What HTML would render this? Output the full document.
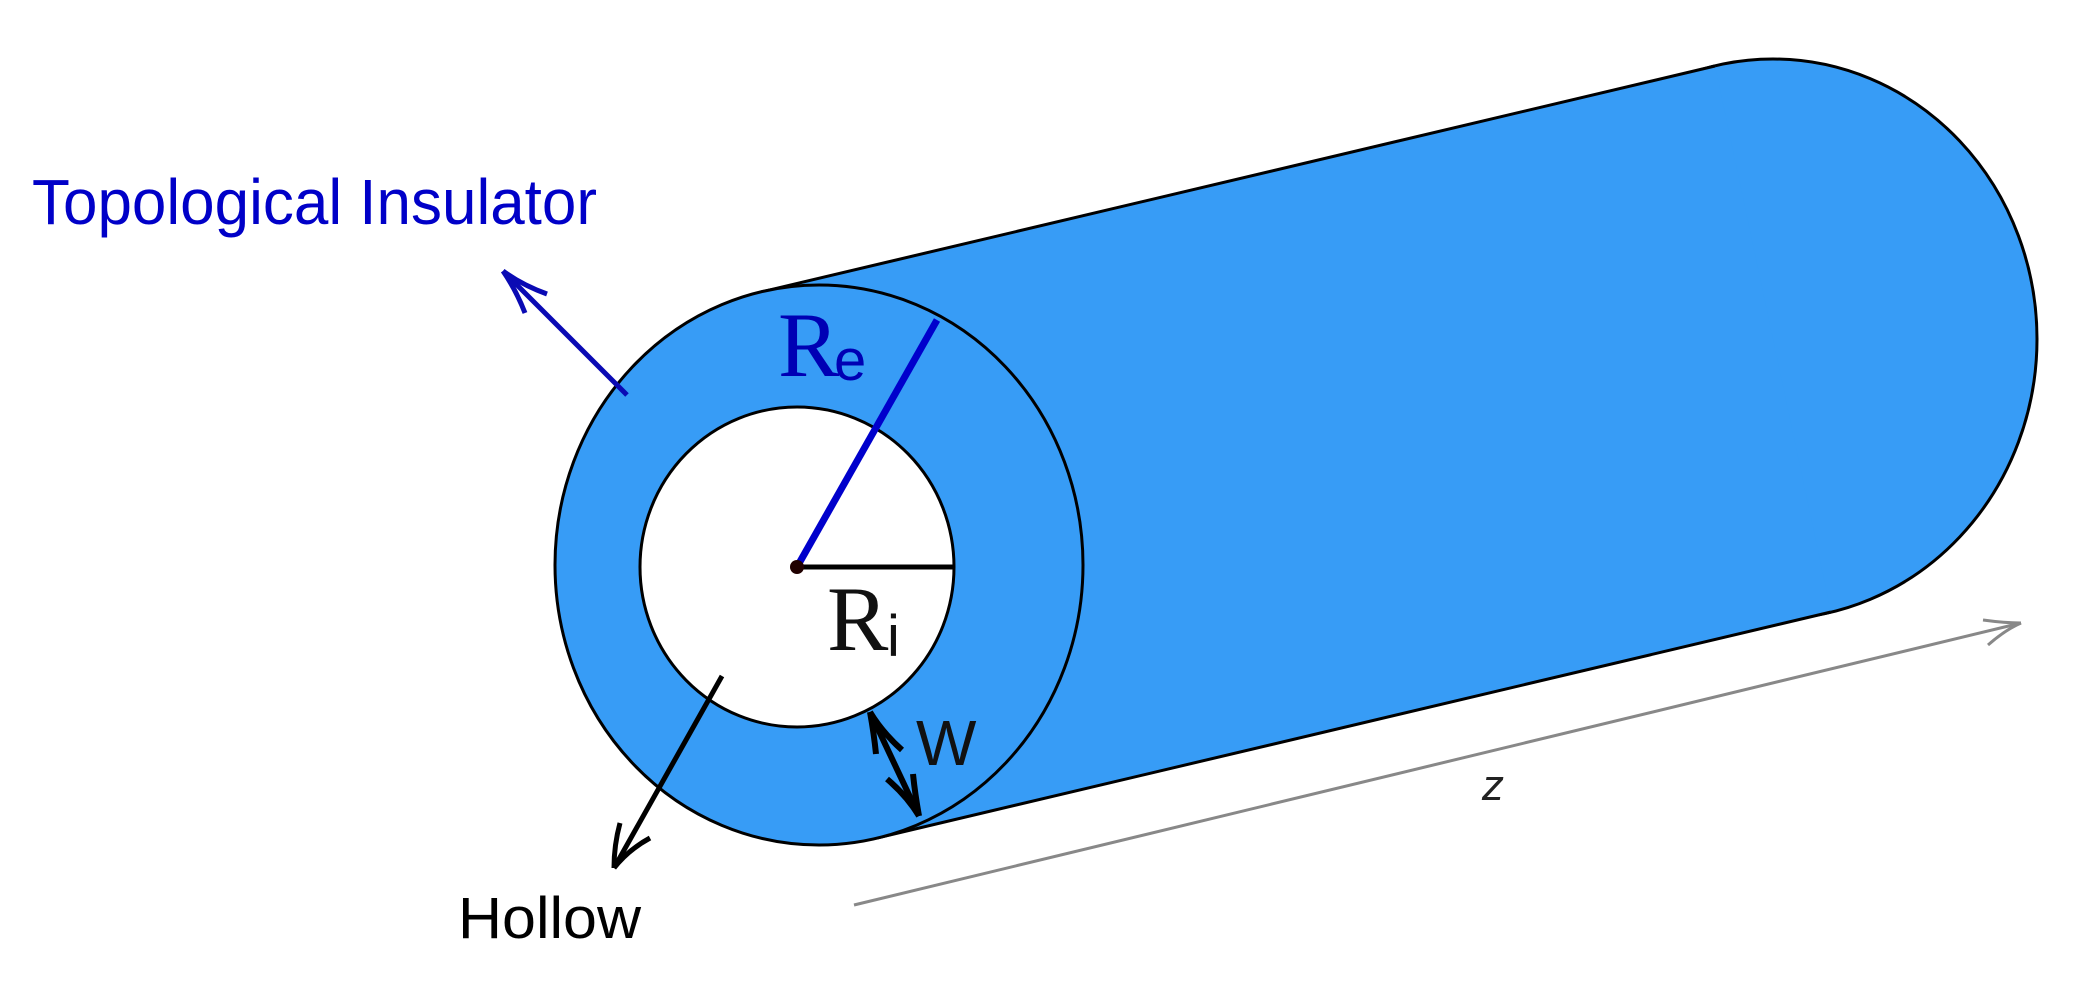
<!DOCTYPE html>
<html><head><meta charset="utf-8"><style>html,body{margin:0;padding:0;background:#fff}svg{display:block}.s{font-family:"Liberation Sans",sans-serif}.r{font-family:"Liberation Serif",serif}</style></head>
<body>
<svg width="2092" height="988" viewBox="0 0 2092 988" xmlns="http://www.w3.org/2000/svg">
<ellipse cx="1773" cy="339" rx="264" ry="280" fill="#379cf6" stroke="#000" stroke-width="3"/>
<polygon points="761,292 1715,66 1831,612 877,838" fill="#379cf6"/>
<line x1="761" y1="292" x2="1715" y2="66" stroke="#000" stroke-width="3"/>
<line x1="877" y1="838" x2="1831" y2="612" stroke="#000" stroke-width="3"/>
<ellipse cx="819" cy="565" rx="264" ry="280" fill="#379cf6" stroke="#000" stroke-width="3"/>
<ellipse cx="797" cy="567" rx="157" ry="160" fill="#fff" stroke="#000" stroke-width="3"/>
<line x1="797" y1="567" x2="937" y2="320" stroke="#0000cc" stroke-width="7"/>
<line x1="797" y1="567" x2="954" y2="567" stroke="#000" stroke-width="5"/>
<circle cx="797" cy="567" r="7" fill="#200000"/>
<text class="r" x="778" y="376" font-size="92" fill="#0000b4">R</text>
<text class="s" x="834" y="380" font-size="58" fill="#0000b4">e</text>
<text class="r" x="827" y="650" font-size="92" fill="#111">R</text>
<text class="s" x="887" y="656" font-size="58" fill="#111">i</text>
<g stroke="#0a0ab4" stroke-width="5" fill="none">
<line x1="627" y1="395" x2="503" y2="271"/>
<path d="M503,271 Q516,290 525,313"/>
<path d="M503,271 Q522,285 547,294"/>
</g>
<text class="s" x="32" y="224" font-size="64" fill="#0000c8" textLength="565" lengthAdjust="spacingAndGlyphs">Topological Insulator</text>
<g stroke="#000" stroke-width="5" fill="none">
<line x1="722" y1="676" x2="614" y2="868"/>
<path d="M614,868 Q614,845 620,823"/>
<path d="M614,868 Q628,850 650,838"/>
</g>
<text class="s" x="458" y="938" font-size="58" fill="#000" textLength="183" lengthAdjust="spacingAndGlyphs">Hollow</text>
<g stroke="#000" stroke-width="6" fill="none">
<line x1="870" y1="712" x2="919" y2="816"/>
<path d="M870,712 Q874,734 876,754"/>
<path d="M870,712 Q882,732 902,750"/>
<path d="M919,816 Q915,794 913,774"/>
<path d="M919,816 Q907,796 887,779"/>
</g>
<text class="s" x="916" y="765" font-size="64" fill="#111">W</text>
<g stroke="#888" stroke-width="3" fill="none">
<line x1="854" y1="905" x2="2021" y2="623"/>
<path d="M2021,623 Q2005,623 1983,620"/>
<path d="M2021,623 Q2005,630 1988,645"/>
</g>
<text class="s" x="1482" y="800" font-size="44" font-style="italic" fill="#222">z</text>
</svg>
</body></html>
